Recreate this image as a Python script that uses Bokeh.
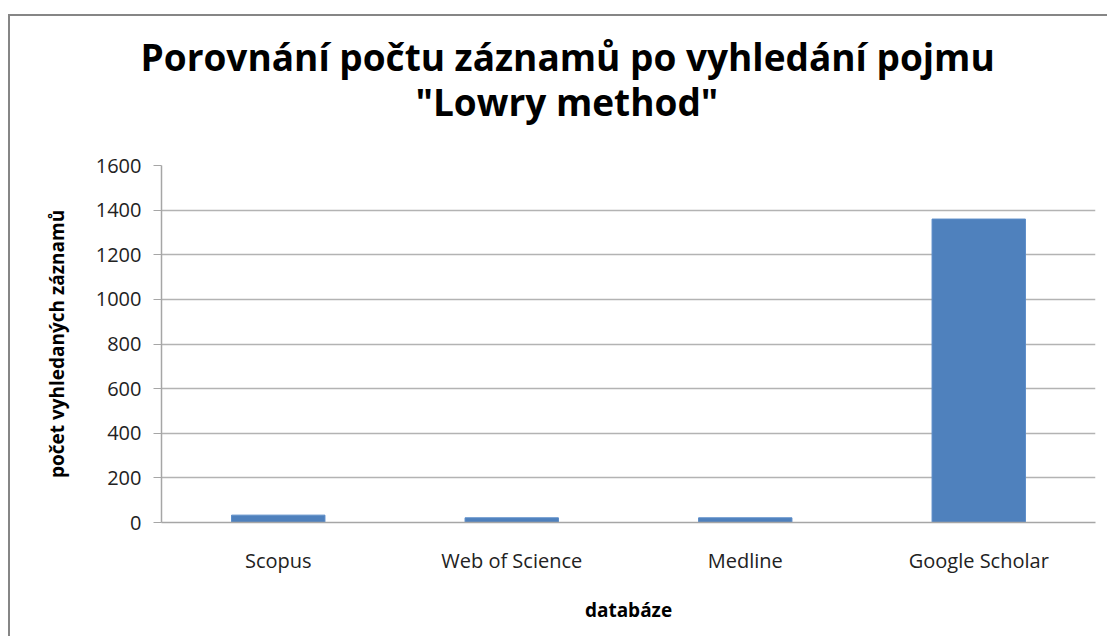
from bokeh.plotting import figure
from bokeh.models import FactorRange, FixedTicker, Title
from bokeh.embed import file_html
from bokeh.resources import INLINE

categories = ["Scopus", "Web of Science", "Medline", "Google Scholar"]
counts = [33, 21, 21, 1360]
y_ticks = [0, 200, 400, 600, 800, 1000, 1200, 1400, 1600]
title_line1 = "Porovnání počtu záznamů po vyhledání pojmu"
title_line2 = "\"Lowry method\""
x_label = "databáze"
y_label = "počet vyhledaných záznamů"

FONT = "Open Sans"

p = figure(
    x_range=FactorRange(*categories, range_padding=0.0),
    y_range=(0, 1600),
    width=1099, height=622,
    output_backend="svg", toolbar_location=None,
    min_border_left=151, min_border_right=14, min_border_top=149, min_border_bottom=116,
)
p.styles = {"border-left": "2px solid #868686", "border-top": "2px solid #868686",
            "margin-top": "14px", "margin-left": "8px"}

p.title.visible = False
t2 = Title(text=title_line2, align="left", offset=254, text_font=FONT, text_font_size="37px",
           text_font_style="bold", text_color="#000000", standoff=78)
t1 = Title(text=title_line1, align="left", offset=-21, text_font=FONT, text_font_size="37px",
           text_font_style="bold", text_color="#000000", standoff=-94)
p.add_layout(t2, "above")
p.add_layout(t1, "above")

p.vbar(x=categories, top=counts, width=0.4, fill_color="#4f81bd", line_color="#5b8cc8", line_width=1)

p.outline_line_color = None
p.background_fill_color = "white"
p.border_fill_color = "white"
p.xgrid.grid_line_color = None
p.ygrid.grid_line_color = "#b3b3b3"
p.ygrid.grid_line_width = 1.5

p.yaxis.ticker = FixedTicker(ticks=y_ticks)
p.yaxis.axis_line_color = "#a6a6a6"
p.yaxis.axis_line_width = 1.5
p.yaxis.major_tick_line_color = "#a6a6a6"
p.yaxis.major_tick_out = 8
p.yaxis.major_tick_in = 0
p.yaxis.minor_tick_line_color = None
p.yaxis.major_label_standoff = 12
p.yaxis.major_label_text_font = FONT
p.yaxis.major_label_text_font_size = "20px"
p.yaxis.major_label_text_color = "#222222"
p.yaxis.axis_label = y_label
p.yaxis.axis_label_text_font = FONT
p.yaxis.axis_label_text_font_size = "19px"
p.yaxis.axis_label_text_font_style = "bold"
p.yaxis.axis_label_text_color = "#000000"
p.yaxis.axis_label_standoff = 23

p.xaxis.axis_line_color = "#a6a6a6"
p.xaxis.axis_line_width = 1.5
p.xaxis.major_tick_line_color = None
p.xaxis.major_tick_out = 0
p.xaxis.major_tick_in = 0
p.xaxis.major_label_standoff = 24
p.xaxis.major_label_text_font = FONT
p.xaxis.major_label_text_font_size = "20px"
p.xaxis.major_label_text_color = "#222222"
p.xaxis.axis_label = x_label
p.xaxis.axis_label_text_font = FONT
p.xaxis.axis_label_text_font_size = "19px"
p.xaxis.axis_label_text_font_style = "bold"
p.xaxis.axis_label_text_color = "#000000"
p.xaxis.axis_label_standoff = 20

open("out.html", "w").write(file_html(p, INLINE))
